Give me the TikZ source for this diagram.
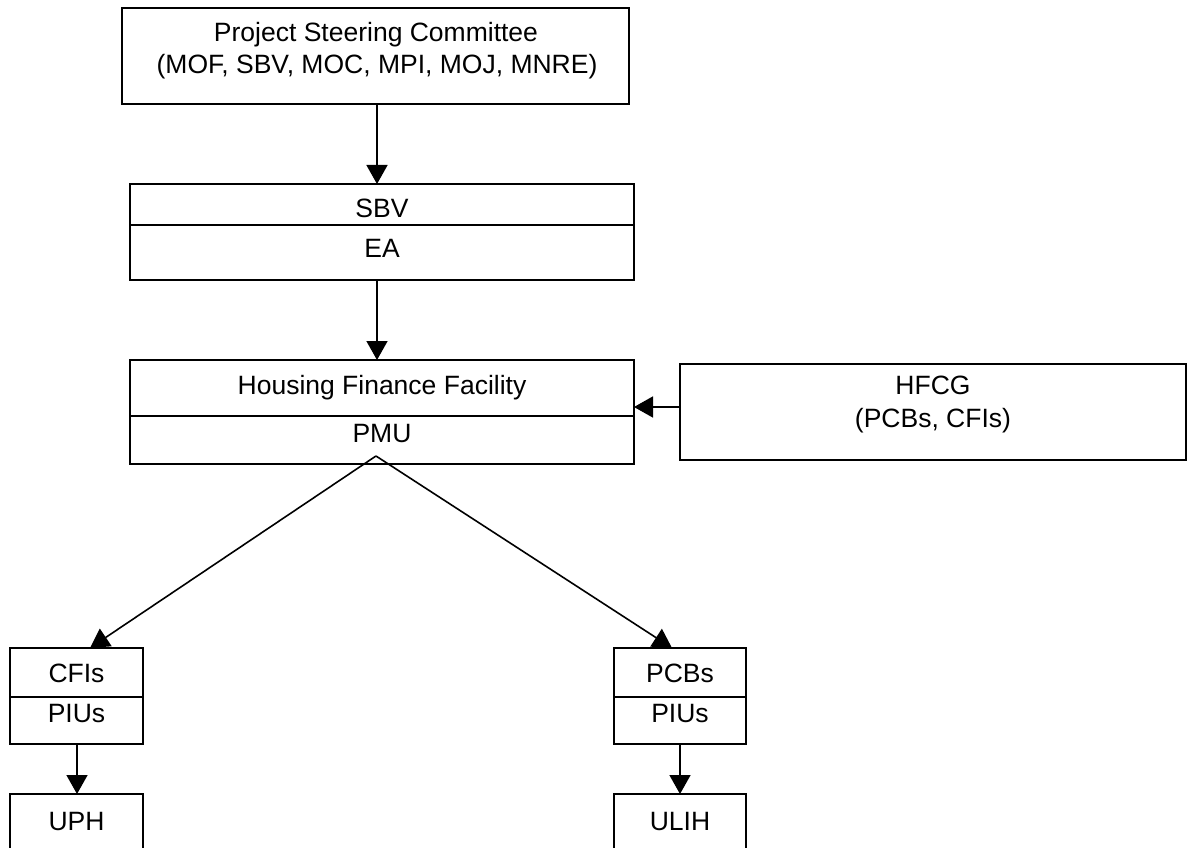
\documentclass[tikz,border=0pt]{standalone}
\usepackage{fontspec}
\setmainfont{Liberation Sans}
\usetikzlibrary{arrows.meta}
\begin{document}
\begin{tikzpicture}[x=1pt,y=-1pt,
  box/.style={draw, line width=1.5pt, inner sep=0pt, outer sep=0pt, anchor=north west},
  lbl/.style={anchor=base, inner sep=0pt, outer sep=0pt, font=\fontsize{26.5}{32}\selectfont},
  arr/.style={line width=1.6pt, -{Triangle[length=19pt,width=21pt]}},
]
\clip (0,0) rectangle (1187,848);
\fill[white] (0,0) rectangle (1187,848);

% boxes
\node[box, minimum width=507pt, minimum height=96pt] (psc) at (122,8) {};
\node[box, minimum width=504pt, minimum height=41pt] (sbv) at (130,184) {};
\node[box, minimum width=504pt, minimum height=55pt] (ea) at (130,225) {};
\node[box, minimum width=504pt, minimum height=56pt] (hff) at (130,360) {};
\node[box, minimum width=504pt, minimum height=48pt] (pmu) at (130,416) {};
\node[box, minimum width=506pt, minimum height=96pt] (hfcg) at (680,364) {};
\node[box, minimum width=133pt, minimum height=49pt] (cfi) at (10,648) {};
\node[box, minimum width=133pt, minimum height=47pt] (piuL) at (10,697) {};
\node[box, minimum width=133pt, minimum height=80pt] (uph) at (10,794) {};
\node[box, minimum width=132pt, minimum height=49pt] (pcb) at (614,648) {};
\node[box, minimum width=132pt, minimum height=47pt] (piuR) at (614,697) {};
\node[box, minimum width=132pt, minimum height=80pt] (ulih) at (614,794) {};

% texts
\node[lbl] (pscA) at (376,42) {Project Steering Committee};
\node[lbl] (pscB) at (377,74) {(MOF, SBV, MOC, MPI, MOJ, MNRE)};
\node[lbl] (sbvT) at (382,218) {SBV};
\node[lbl] (eaT) at (382,258) {EA};
\node[lbl] (hffT) at (382,394) {Housing Finance Facility};
\node[lbl] (pmuT) at (382,442) {PMU};
\node[lbl] (hfcgA) at (933,394) {HFCG};
\node[lbl] (hfcgB) at (933,427) {(PCBs, CFIs)};
\node[lbl] (cfiT) at (76.5,682) {CFIs};
\node[lbl] (piuLT) at (76.5,722) {PIUs};
\node[lbl] (uphT) at (76.5,830) {UPH};
\node[lbl] (pcbT) at (680,682) {PCBs};
\node[lbl] (piuRT) at (680,722) {PIUs};
\node[lbl] (ulihT) at (680,830) {ULIH};

% connector points
\coordinate (apex) at (376,456);
\coordinate (cfiIn) at (90,648);
\coordinate (pcbIn) at (672,648);
\coordinate (colx) at (377,0);
\coordinate (colL) at (77,0);

% connectors
\draw[arr] (psc.south -| colx) -- (sbv.north -| colx);
\draw[arr] (ea.south -| colx) -- (hff.north -| colx);
\draw[arr] ([yshift=5pt]hfcg.west) -- ([yshift=5pt]hfcg.west -| hff.east);
\draw[arr] (apex) -- (cfiIn);
\draw[arr] (apex) -- (pcbIn);
\draw[arr] (piuL.south -| colL) -- (uph.north -| colL);
\draw[arr] (piuR.south) -- (piuR.south |- ulih.north);
\end{tikzpicture}
\end{document}
